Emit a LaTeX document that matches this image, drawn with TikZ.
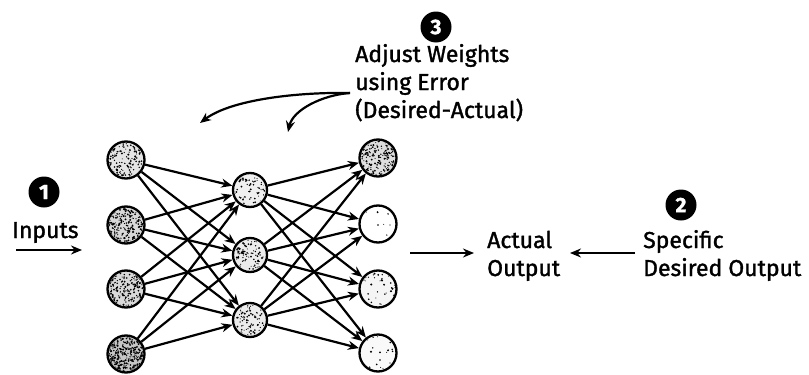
\documentclass[tikz,border=0pt]{standalone}
\usepackage{fontspec}
\setmainfont{Fira Sans}[FakeBold=1.4]
\usetikzlibrary{arrows.meta,calc}

% stipple the inside of a round unit: node name, radius (pt), dot count, seed
\newcommand\speckle[4]{%
  \begin{scope}
    \pgfmathsetseed{#4}
    \clip (#1) circle (#2pt);
    \foreach \k in {1,...,#3}{
      \fill ($(#1)+(rand*#2pt,rand*#2pt)$) circle (0.5pt+0.6pt*rnd);
    }
  \end{scope}}

\begin{document}
\begin{tikzpicture}[x=1pt,y=-1pt,
  lbl/.style={font=\fontsize{23}{28}\selectfont, inner sep=0pt},
  unit/.style={circle, draw, line width=2.3pt, minimum size=37pt, inner sep=0pt},
  hid/.style={unit, minimum size=34pt},
  num/.style={circle, fill=black, minimum size=31pt, inner sep=0pt,
              text=white, font=\fontsize{21}{21}\selectfont\bfseries},
  link/.style={line width=2.2pt, -{Stealth[length=11pt,width=9pt]}},
  ]
\useasboundingbox (0,0) rectangle (809,375);

% input layer
\node[unit, fill=gray!20] (i1) at (126,160) {};
\node[unit, fill=gray!30] (i2) at (126,225) {};
\node[unit, fill=gray!30] (i3) at (126,289) {};
\node[unit, fill=gray!45] (i4) at (126,354) {};
% hidden layer
\node[hid, fill=gray!12] (h1) at (250,190) {};
\node[hid, fill=gray!15] (h2) at (250,255) {};
\node[hid, fill=gray!15] (h3) at (250,320) {};
% output layer
\node[unit, fill=gray!25] (o1) at (378,158) {};
\node[unit, fill=white]   (o2) at (378,224) {};
\node[unit, fill=gray!8]  (o3) at (378,289) {};
\node[unit, fill=gray!5]  (o4) at (378,353) {};

\speckle{i1}{17}{150}{11}
\speckle{i2}{17}{220}{12}
\speckle{i3}{17}{210}{13}
\speckle{i4}{17}{320}{14}
\speckle{h1}{15}{70}{21}
\speckle{h2}{15}{95}{22}
\speckle{h3}{15}{95}{23}
\speckle{o1}{17}{190}{31}
\speckle{o2}{17}{10}{32}
\speckle{o3}{17}{40}{33}
\speckle{o4}{17}{25}{34}

% weighted connections
\foreach \i in {1,...,4}
  \foreach \j in {1,...,3}
    \draw[link] (i\i) -- (h\j);
\foreach \j in {1,...,3}
  \foreach \k in {1,...,4}
    \draw[link] (h\j) -- (o\k);

% step 1: inputs
\node[num] (n1) at (44,192) {1};
\node[lbl, anchor=base west] (inp) at (12,238) {Inputs};
\coordinate (ia) at (16,250);
\coordinate (ib) at (82,250);
\draw[link] (ia) -- (ib);

% result of the net
\coordinate (oa) at (410,253);
\coordinate (ob) at (474,253);
\draw[link] (oa) -- (ob);
\node[lbl, align=left, anchor=base west] (act) at (487,276) {Actual\\Output};

% step 2: target
\node[num] (n2) at (681,205) {2};
\node[lbl, align=left, anchor=base west] (des) at (643,276) {Specific\\Desired Output};
\coordinate (da) at (635,253);
\coordinate (db) at (570,253);
\draw[link] (da) -- (db);

% step 3: weight update
\node[num] (n3) at (436,27) {3};
\node[lbl, align=left, anchor=base west] (adj) at (355,118)
  {Adjust Weights\\using Error\\(Desired-Actual)};
\coordinate (fb) at (350,93);
\coordinate (e1) at (200,123);
\coordinate (e2) at (288,132);
\draw[link] (fb) .. controls (300,92) and (232,99) .. (e1);
\draw[link] (fb) .. controls (322,95) and (293,110) .. (e2);
\end{tikzpicture}
\end{document}
